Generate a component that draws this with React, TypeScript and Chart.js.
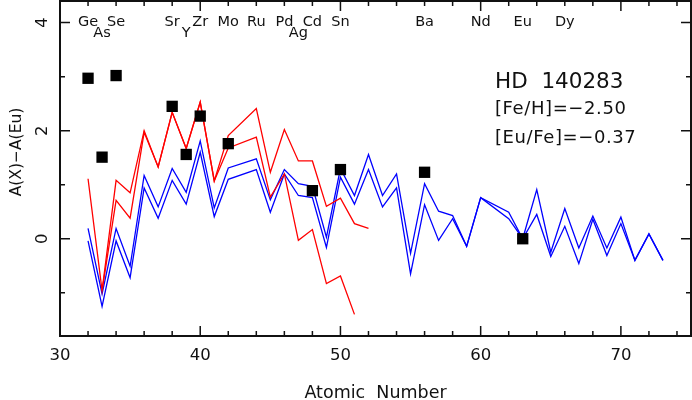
import React, { useEffect, useRef } from "react";
import { Chart, registerables } from "chart.js";

Chart.register(...registerables);

// ---------- data ----------
const redZ1 = [32, 33, 34, 35, 36, 37, 38, 39, 40, 41, 42, 44, 45, 46, 47, 48, 49, 50, 51, 52];
const red1 = [1.11, -0.96, 1.08, 0.85, 2.0, 1.33, 2.34, 1.67, 2.53, 1.07, 1.91, 2.41, 1.23, 2.02, 1.44, 1.44, 0.6, 0.75, 0.28, 0.19];

const redZ2 = [33, 34, 35, 36, 37, 38, 39, 40, 41, 42, 44, 45, 46, 47, 48, 49, 50, 51];
const red2 = [-0.96, 0.71, 0.38, 1.97, 1.33, 2.34, 1.67, 2.53, 1.07, 1.68, 1.88, 0.77, 1.2, -0.03, 0.17, -0.83, -0.69, -1.4];

const blueZ = [32, 33, 34, 35, 36, 37, 38, 39, 40, 41, 42, 44, 45, 46, 47, 48, 49, 50, 51, 52, 53, 54, 55, 56, 57, 58, 59, 60, 62, 63, 64, 65, 66, 67, 68, 69, 70, 71, 72, 73];
const blue1 = [0.19, -1.02, 0.19, -0.51, 1.17, 0.59, 1.3, 0.86, 1.81, 0.57, 1.31, 1.48, 0.72, 1.28, 1.02, 0.97, 0.03, 1.3, 0.8, 1.56, 0.8, 1.2, -0.27, 1.02, 0.51, 0.43, -0.14, 0.76, 0.49, 0.0, 0.91, -0.25, 0.56, -0.17, 0.42, -0.17, 0.4, -0.4, 0.09, -0.4];
const blue2 = [-0.04, -1.25, -0.04, -0.72, 0.94, 0.38, 1.08, 0.64, 1.6, 0.41, 1.1, 1.28, 0.49, 1.2, 0.8, 0.76, -0.16, 1.14, 0.64, 1.28, 0.59, 0.94, -0.65, 0.63, -0.03, 0.37, -0.14, 0.76, 0.37, 0.0, 0.45, -0.33, 0.23, -0.46, 0.36, -0.31, 0.28, -0.4, 0.09, -0.4];

const obsZ = [32, 33, 34, 38, 39, 40, 42, 48, 50, 56, 63];
const obsV = [2.97, 1.51, 3.02, 2.45, 1.56, 2.27, 1.76, 0.89, 1.28, 1.23, 0.0];

const elemSymbols = ["Ge", "As", "Se", "Sr", "Y", "Zr", "Mo", "Ru", "Pd", "Ag", "Cd", "Sn", "Ba", "Nd", "Eu", "Dy"];
const elemZ = [32, 33, 34, 38, 39, 40, 42, 44, 46, 47, 48, 50, 56, 60, 63, 66];
const elemRow = [0, 1, 0, 0, 1, 0, 0, 0, 0, 1, 0, 0, 0, 0, 0, 0];

const xTickLabels = [30, 40, 50, 60, 70];
const yTickLabels = [0, 2, 4];
const xMinorTicks = [32, 34, 36, 38, 42, 44, 46, 48, 52, 54, 56, 58, 62, 64, 66, 68, 72, 74];
const yMinorTicks = [-1, 1, 3];

const starName = "HD  140283";
const feh = "[Fe/H]=\u22122.50";
const eufe = "[Eu/Fe]=\u22120.37";
const xTitle = "Atomic  Number";
const yTitle = "A(X)\u2212A(Eu)";

const FONT = '"DejaVu Sans", sans-serif';

const pts = (zs: number[], vs: number[]) => zs.map((z, i) => ({ x: z, y: vs[i] }));

const framePlugin = {
  id: "framePlugin",
  afterDatasetsDraw(chart: any) {
    const { ctx, chartArea: a, scales } = chart;
    const xs = scales.x;
    const ys = scales.y;
    ctx.save();
    ctx.strokeStyle = "#111";
    ctx.fillStyle = "#111";
    // ticks
    ctx.lineWidth = 1.5;
    const vt = (v: number, len: number) => {
      const px = xs.getPixelForValue(v);
      ctx.beginPath();
      ctx.moveTo(px, a.bottom);
      ctx.lineTo(px, a.bottom - len);
      ctx.moveTo(px, a.top);
      ctx.lineTo(px, a.top + len);
      ctx.stroke();
    };
    const ht = (v: number, len: number) => {
      const py = ys.getPixelForValue(v);
      ctx.beginPath();
      ctx.moveTo(a.left, py);
      ctx.lineTo(a.left + len, py);
      ctx.moveTo(a.right, py);
      ctx.lineTo(a.right - len, py);
      ctx.stroke();
    };
    xTickLabels.forEach((v) => vt(v, 10));
    xMinorTicks.forEach((v) => vt(v, 5));
    yTickLabels.forEach((v) => ht(v, 10));
    yMinorTicks.forEach((v) => ht(v, 5));
    // frame
    ctx.lineWidth = 2;
    ctx.strokeRect(a.left, a.top, a.right - a.left, a.bottom - a.top);

    // x tick labels
    ctx.font = `16.5px ${FONT}`;
    ctx.textAlign = "center";
    ctx.textBaseline = "alphabetic";
    xTickLabels.forEach((v) => {
      ctx.fillText(String(v), xs.getPixelForValue(v), 360);
    });
    // y tick labels (rotated)
    yTickLabels.forEach((v) => {
      ctx.save();
      ctx.translate(47, ys.getPixelForValue(v));
      ctx.rotate(-Math.PI / 2);
      ctx.fillText(String(v), 0, 0);
      ctx.restore();
    });
    // axis titles
    ctx.font = `17.5px ${FONT}`;
    ctx.fillText(xTitle, (a.left + a.right) / 2, 398);
    ctx.save();
    ctx.font = `15.5px ${FONT}`;
    ctx.translate(20.5, 152);
    ctx.rotate(-Math.PI / 2);
    ctx.fillText(yTitle, 0, 0);
    ctx.restore();

    // element labels
    ctx.font = `14.5px ${FONT}`;
    elemSymbols.forEach((s, i) => {
      ctx.fillText(s, xs.getPixelForValue(elemZ[i]), elemRow[i] ? 36.5 : 26);
    });

    // annotation
    ctx.textAlign = "left";
    ctx.font = `21.5px ${FONT}`;
    ctx.fillText(starName, 495, 88);
    ctx.font = `18px ${FONT}`;
    (ctx as any).letterSpacing = "0.6px";
    ctx.fillText(feh, 495, 114);
    ctx.fillText(eufe, 495, 143);
    (ctx as any).letterSpacing = "0px";
    ctx.restore();
  },
};

export default function App() {
  const ref = useRef<HTMLCanvasElement | null>(null);
  useEffect(() => {
    document.body.style.margin = "0";
    const canvas = ref.current;
    if (!canvas) return;
    const chart = new Chart(canvas, {
      type: "scatter",
      data: {
        datasets: [
          {
            data: pts(obsZ, obsV),
            showLine: false,
            pointStyle: "rect",
            pointRadius: 8,
            pointBorderWidth: 0,
            backgroundColor: "#000",
            borderColor: "#000",
            order: 0,
          },
          {
            data: pts(redZ1, red1),
            showLine: true,
            borderColor: "#ff0000",
            borderWidth: 1.3,
            pointRadius: 0,
            tension: 0,
            order: 1,
          },
          {
            data: pts(redZ2, red2),
            showLine: true,
            borderColor: "#ff0000",
            borderWidth: 1.3,
            pointRadius: 0,
            tension: 0,
            order: 1,
          },
          {
            data: pts(blueZ, blue1),
            showLine: true,
            borderColor: "#0000ff",
            borderWidth: 1.3,
            pointRadius: 0,
            tension: 0,
            order: 1,
          },
          {
            data: pts(blueZ, blue2),
            showLine: true,
            borderColor: "#0000ff",
            borderWidth: 1.3,
            pointRadius: 0,
            tension: 0,
            order: 1,
          },
        ],
      },
      options: {
        responsive: false,
        animation: false,
        devicePixelRatio: 1,
        layout: { autoPadding: false, padding: { left: 60, top: 1, right: 1, bottom: 64 } },
        plugins: { legend: { display: false }, tooltip: { enabled: false } },
        scales: {
          x: { type: "linear", min: 30, max: 75, display: false },
          y: { type: "linear", min: -1.8, max: 4.4, display: false },
        },
      },
      plugins: [framePlugin],
    });
    return () => chart.destroy();
  }, []);
  return (
    <div style={{ position: "fixed", left: 0, top: 0, width: 692, height: 400, background: "#fff" }}>
      <canvas ref={ref} width={692} height={400} />
    </div>
  );
}
